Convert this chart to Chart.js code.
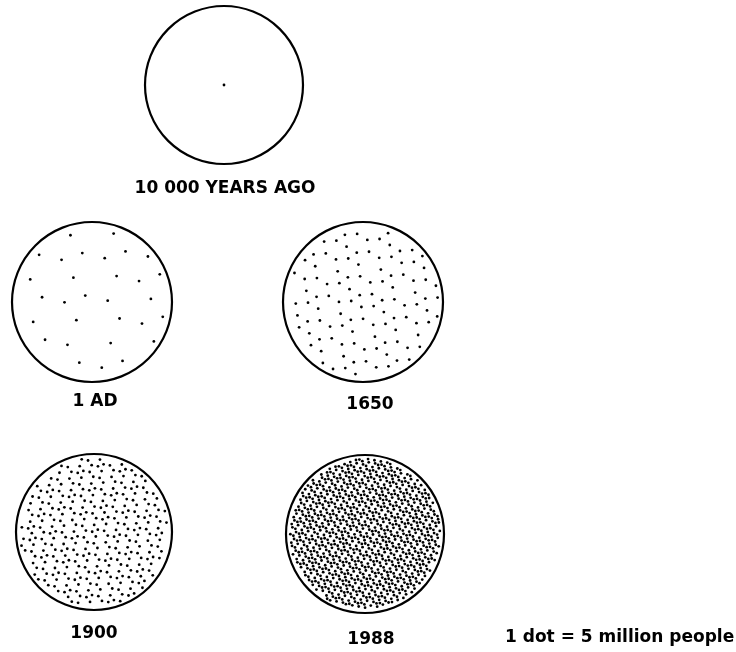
<!DOCTYPE html>
<html>
<head>
<meta charset="utf-8">
<script src="https://cdn.jsdelivr.net/npm/chart.js@4"></script>
<style>
  html, body { margin: 0; padding: 0; background: #fff; }
  #wrap { width: 736px; height: 652px; }
</style>
</head>
<body>
<div id="wrap"><canvas id="popChart" width="736" height="652"></canvas></div>
<script>
// --- data: world population, one dot per 5 million people ---
const periods = ['10 000 YEARS AGO', '1 AD', '1650', '1900', '1988'];
const dotCounts = [1, 30, 110, 320, 1020];
const legendText = '1 dot = 5 million people';

// --- layout (page pixels) ---
const centersX = [224, 92, 363, 94, 365];
const centersY = [85, 302, 302, 532, 534];
const circleR = [79, 80, 80, 78, 79];
const labelX = [225, 95, 370, 94, 371];
const labelY = [189, 402, 405, 634, 640];

// spread n dots over a disc: quasi-uniform R2 sequence in the square,
// keep the ones that fall inside (deterministic, no random numbers)
function discDots(n, cx, cy, r, offset) {
  if (n === 1) return [{ x: cx, y: cy }];
  const g = 1.32471795724474602596;
  const a1 = 1 / g, a2 = 1 / (g * g);
  const pts = [];
  const lim = r * 0.95;
  for (let k = offset; pts.length < n; k++) {
    const u = ((0.5 + a1 * k) % 1) * 2 - 1;
    const v = ((0.5 + a2 * k) % 1) * 2 - 1;
    if (u * u + v * v > 1) continue;
    pts.push({ x: cx + u * lim, y: cy + v * lim });
  }
  return pts;
}

const datasets = [{
  label: 'circles',
  data: periods.map((p, i) => ({ x: centersX[i], y: centersY[i] })),
  pointRadius: circleR,
  pointBorderColor: '#000',
  pointBorderWidth: 2.2,
  pointBackgroundColor: 'rgba(0,0,0,0)',
  clip: false
}];

periods.forEach((p, i) => {
  datasets.push({
    label: p,
    data: discDots(dotCounts[i], centersX[i], centersY[i], circleR[i], 7 + i * 977),
    pointRadius: 1.4,
    pointBorderWidth: 0,
    pointBackgroundColor: '#000',
    clip: false
  });
});

const labelPlugin = {
  id: 'labels',
  afterDatasetsDraw(chart) {
    const { ctx, scales: { x, y } } = chart;
    ctx.save();
    ctx.fillStyle = '#000';
    ctx.font = 'bold 17px "DejaVu Sans"';
    ctx.textBaseline = 'middle';
    ctx.textAlign = 'center';
    periods.forEach((p, i) => {
      ctx.fillText(p, x.getPixelForValue(labelX[i]), y.getPixelForValue(labelY[i]));
    });
    ctx.textAlign = 'left';
    ctx.fillText(legendText, x.getPixelForValue(505), y.getPixelForValue(638));
    ctx.restore();
  }
};

new Chart(document.getElementById('popChart'), {
  type: 'scatter',
  data: { datasets },
  options: {
    responsive: false,
    animation: false,
    events: [],
    layout: { padding: 0, autoPadding: false },
    plugins: { legend: { display: false }, tooltip: { enabled: false } },
    scales: {
      x: { type: 'linear', min: 0, max: 736, display: false },
      y: { type: 'linear', min: 0, max: 652, reverse: true, display: false }
    }
  },
  plugins: [labelPlugin]
});
</script>
</body>
</html>
